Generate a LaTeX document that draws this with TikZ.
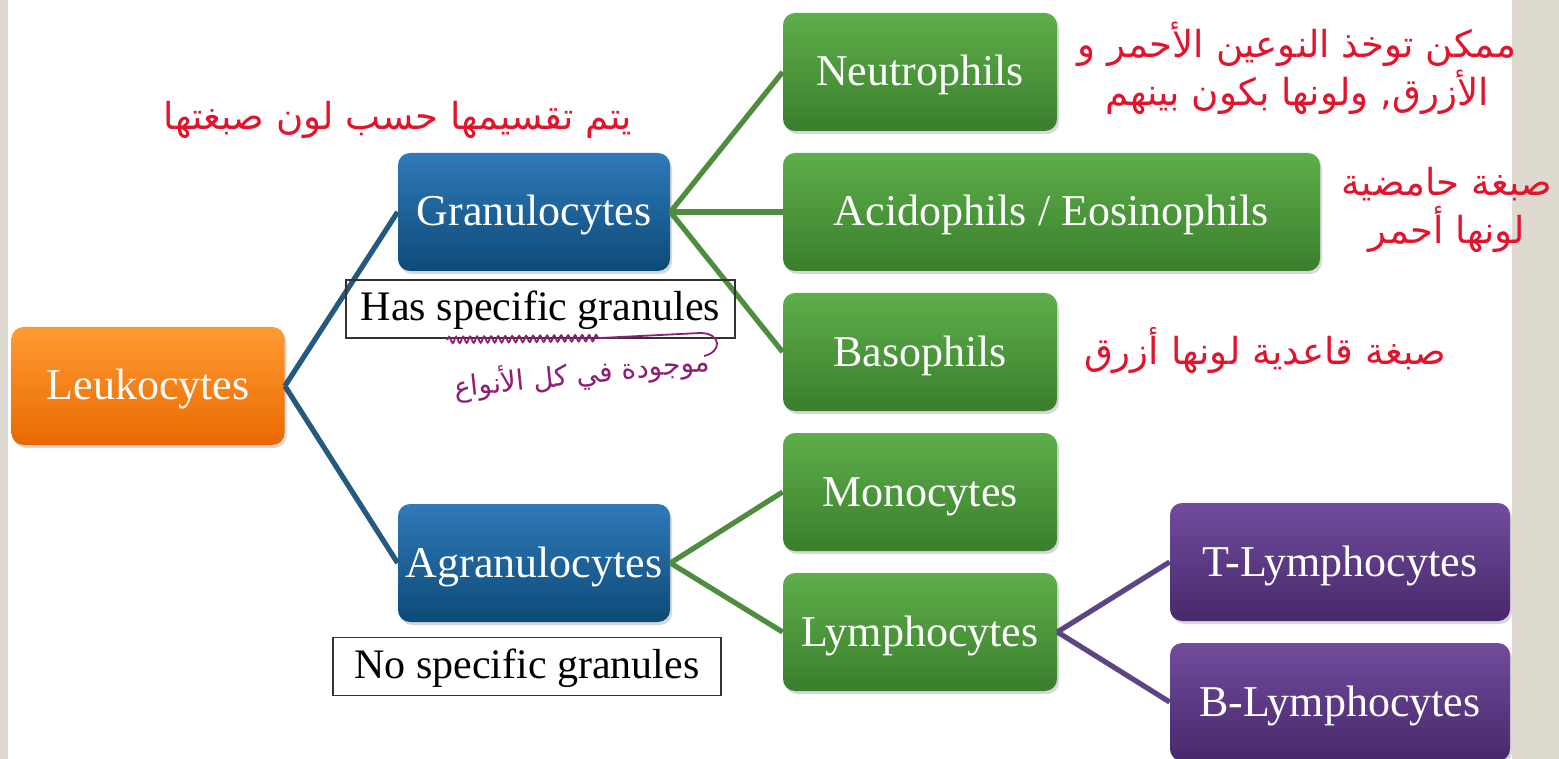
\documentclass[tikz,border=0pt]{standalone}
\usepackage{fontspec}
\setmainfont{Liberation Serif}
\newfontfamily\arabicfont[Script=Arabic]{DejaVu Sans}
\TeXXeTstate=1
\usepackage{xcolor}
\usepackage{tikz}
\usetikzlibrary{shadows,decorations.pathmorphing}

\definecolor{orangetop}{HTML}{FF9B33}
\definecolor{orangebot}{HTML}{E86A00}
\definecolor{bluetop}{HTML}{2F7AB8}
\definecolor{bluebot}{HTML}{0D4A78}
\definecolor{greentop}{HTML}{5EAE4B}
\definecolor{greenbot}{HTML}{3A7F2C}
\definecolor{purpletop}{HTML}{714C9C}
\definecolor{purplebot}{HTML}{48286B}
\definecolor{bluelink}{HTML}{235A7E}
\definecolor{greenlink}{HTML}{4F8D3E}
\definecolor{purplelink}{HTML}{5D4584}
\definecolor{arabicred}{HTML}{E5122C}
\definecolor{handink}{HTML}{8E1F73}
\definecolor{slideedge}{HTML}{DEDACF}

\begin{document}
\begin{tikzpicture}[x=0.5pt,y=-0.5pt,
  cellbox/.style={rounded corners=6pt, minimum height=59pt, inner sep=0pt,
    text=white, font=\fontsize{22}{26}\selectfont, text height=17pt, text depth=3pt,
    drop shadow={opacity=0.3, shadow xshift=1pt, shadow yshift=-1.5pt}},
  orangebox/.style={cellbox, top color=orangetop, bottom color=orangebot, minimum width=136.5pt},
  bluebox/.style={cellbox, top color=bluetop, bottom color=bluebot, minimum width=136pt},
  greenbox/.style={cellbox, top color=greentop, bottom color=greenbot, minimum width=137pt},
  purplebox/.style={cellbox, top color=purpletop, bottom color=purplebot, minimum width=170pt},
  notebox/.style={draw=black!80, line width=0.6pt, minimum height=29pt, inner sep=0pt,
    font=\fontsize{21}{24}\selectfont, text height=15pt, text depth=3pt},
  rednote/.style={text=arabicred, align=center, font=\arabicfont\fontsize{18.6}{24}\selectfont},
  link/.style={line width=2.6pt}]

% slide background
\fill[white] (0,0) rectangle (1559,759);
\fill[slideedge] (1512,0) rectangle (1559,759);
\fill[slideedge] (0,0) rectangle (8,759);
\useasboundingbox (0,0) rectangle (1559,759);

\node[orangebox] (leuko) at (148,386) {Leukocytes};
\node[bluebox] (gran) at (534,212) {Granulocytes};
\node[bluebox] (agran) at (534,563) {Agranulocytes};
\node[greenbox] (neutro) at (920,72) {Neutrophils};
\node[greenbox, minimum width=268.5pt] (acido) at (1051.5,212) {Acidophils / Eosinophils};
\node[greenbox] (baso) at (920,352) {Basophils};
\node[greenbox] (mono) at (920,492) {Monocytes};
\node[greenbox] (lympho) at (920,632) {Lymphocytes};
\node[purplebox] (tlym) at (1340,562) {T-Lymphocytes};
\node[purplebox] (blym) at (1340,702) {B-Lymphocytes};

\foreach \a/\b in {leuko/gran,leuko/agran}
  \draw[link,bluelink] (\a.east) -- (\b.west);
\foreach \a/\b in {gran/neutro,gran/acido,gran/baso,agran/mono,agran/lympho}
  \draw[link,greenlink] (\a.east) -- (\b.west);
\foreach \a/\b in {lympho/tlym,lympho/blym}
  \draw[link,purplelink] (\a.east) -- (\b.west);

\node[notebox, minimum width=194.5pt] (hasgran) at (540.5,309) {Has specific granules};
\node[notebox, minimum width=194pt] (nogran) at (527,666.5) {No specific granules};

\node[rednote] (splitnote) at (398,120) {\beginR يتم تقسيمها حسب لون صبغتها\endR};
\node[rednote] (neutronote) at (1297,68) {\beginR ممكن توخذ النوعين الأحمر و\endR\\
  \beginR الأزرق, ولونها بكون بينهم\endR};
\node[rednote] (acidonote) at (1447,210) {\beginR صبغة حامضية\endR\\
  \beginR لونها أحمر\endR};
\node[rednote] (basonote) at (1265,350) {\beginR صبغة قاعدية لونها أزرق\endR};

% handwriting
\coordinate (wavystart) at (447,340);
\coordinate (wavyend) at (600,338);
\coordinate (lineend) at (700,333);
\draw[handink, line width=0.9pt, decorate, decoration={snake, amplitude=1.6pt, segment length=3.5pt}]
  (wavystart) -- (wavyend);
\draw[handink, line width=0.9pt] (wavyend) -- (lineend)
  .. controls (722,333) and (722,352) .. (704,356);
\node[handink, rotate=6, font=\arabicfont\fontsize{14}{16}\selectfont] (handnote) at (582,374)
  {\beginR موجودة في كل الأنواع\endR};
\end{tikzpicture}
\end{document}
